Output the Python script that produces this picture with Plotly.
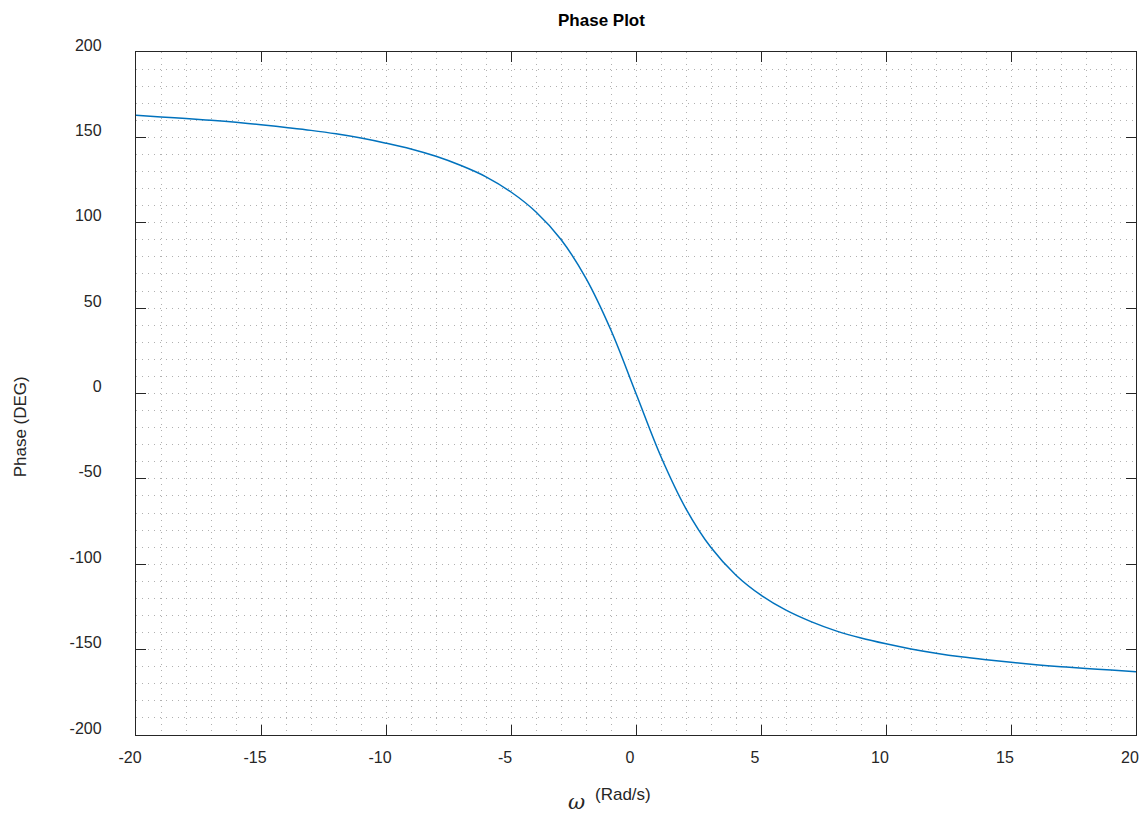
import plotly.graph_objects as go

# Frequency (rad/s) and phase (deg)
omega = [-20, -19, -18, -17, -16, -15, -14, -13, -12, -11, -10, -9, -8, -7, -6,
         -5, -4, -3, -2, -1, 0, 1, 2, 3, 4, 5, 6, 7, 8, 9, 10, 11, 12, 13, 14,
         15, 16, 17, 18, 19, 20]
phase_deg = [162.9, 162.0, 161.0, 160.0, 158.8, 157.4, 155.8, 154.1, 152.1, 149.6,
             146.6, 143.2, 138.9, 133.5, 126.9, 118.0, 106.3, 90.2, 67.4, 37.0,
             0.0, -37.0, -67.5, -90.2, -106.4, -118.1, -126.9, -133.6, -139.0,
             -143.2, -146.6, -149.6, -152.1, -154.2, -155.9, -157.4, -158.8,
             -160.0, -161.0, -162.0, -162.9]

x_tickvals = [-20, -15, -10, -5, 0, 5, 10, 15, 20]
x_ticktext = ["-20", "-15", "-10", "-5", "0", "5", "10", "15", "20"]
y_tickvals = [-200, -150, -100, -50, 0, 50, 100, 150, 200]
y_ticktext = ["-200", "-150", "-100", "-50", "0", "50", "100", "150", "200"]

x_range = [-20, 20]
y_range = [-200, 200]

FONT = "Liberation Sans, Arial, Helvetica, sans-serif"
AX = "#262626"
GRID = "#b0b0b0"
DASH = "1px,5px"

fig = go.Figure()
fig.add_trace(go.Scatter(x=omega, y=phase_deg, mode="lines",
                         line=dict(color="#0072BD", width=1.5, shape="spline", smoothing=1),
                         showlegend=False, hoverinfo="skip"))

axis_common = dict(
    showline=True, linecolor=AX, linewidth=1.3, mirror="ticks",
    ticks="inside", ticklen=10, tickwidth=1.2, tickcolor=AX,
    showgrid=True, gridcolor=GRID, griddash=DASH, gridwidth=1,
    zeroline=False, tickmode="array",
    tickfont=dict(family=FONT, size=16, color=AX),
)

fig.update_xaxes(range=x_range, tickvals=x_tickvals, ticktext=x_ticktext,
                 minor=dict(tickmode="linear", tick0=0, dtick=1, showgrid=True,
                            gridcolor=GRID, griddash=DASH, gridwidth=1, ticks=""),
                 ticklabelstandoff=8, ticklabelshift=-6,
                 **axis_common)
fig.update_yaxes(range=y_range, tickvals=y_tickvals, ticktext=y_ticktext,
                 minor=dict(tickmode="linear", tick0=0, dtick=10, showgrid=True,
                            gridcolor=GRID, griddash=DASH, gridwidth=1, ticks=""),
                 ticklabelstandoff=30, ticklabelshift=-7,
                 **axis_common)

L, R, T, B = 136, 7, 52, 79
W, H = 1146, 814
pw, ph = W - L - R, H - T - B

def px2paper(px, py):
    return (px - L) / pw, (H - B - py) / ph

annotations = []
tx, ty = px2paper(603, 20)
annotations.append(dict(text="<b>Phase Plot</b>", x=tx, y=ty, xref="paper", yref="paper",
                        showarrow=False, xanchor="center", yanchor="middle",
                        font=dict(family=FONT, size=17, color="#000000")))
yx, yy = px2paper(20, 427)
annotations.append(dict(text="Phase (DEG)", x=yx, y=yy, xref="paper", yref="paper",
                        showarrow=False, xanchor="center", yanchor="middle", textangle=-90,
                        font=dict(family=FONT, size=17, color=AX)))
wx, wy = px2paper(578, 802)
annotations.append(dict(text="<i>ω</i>", x=wx, y=wy, xref="paper", yref="paper",
                        showarrow=False, xanchor="center", yanchor="middle",
                        font=dict(family="DejaVu Serif, serif", size=21, color=AX)))
rx, ry = px2paper(624, 795)
annotations.append(dict(text="(Rad/s)", x=rx, y=ry, xref="paper", yref="paper",
                        showarrow=False, xanchor="center", yanchor="middle",
                        font=dict(family=FONT, size=17, color=AX)))

fig.update_layout(
    width=W, height=H,
    margin=dict(l=L, r=R, t=T, b=B, pad=0),
    paper_bgcolor="white", plot_bgcolor="white",
    annotations=annotations,
)

fig.write_html("out.html")
